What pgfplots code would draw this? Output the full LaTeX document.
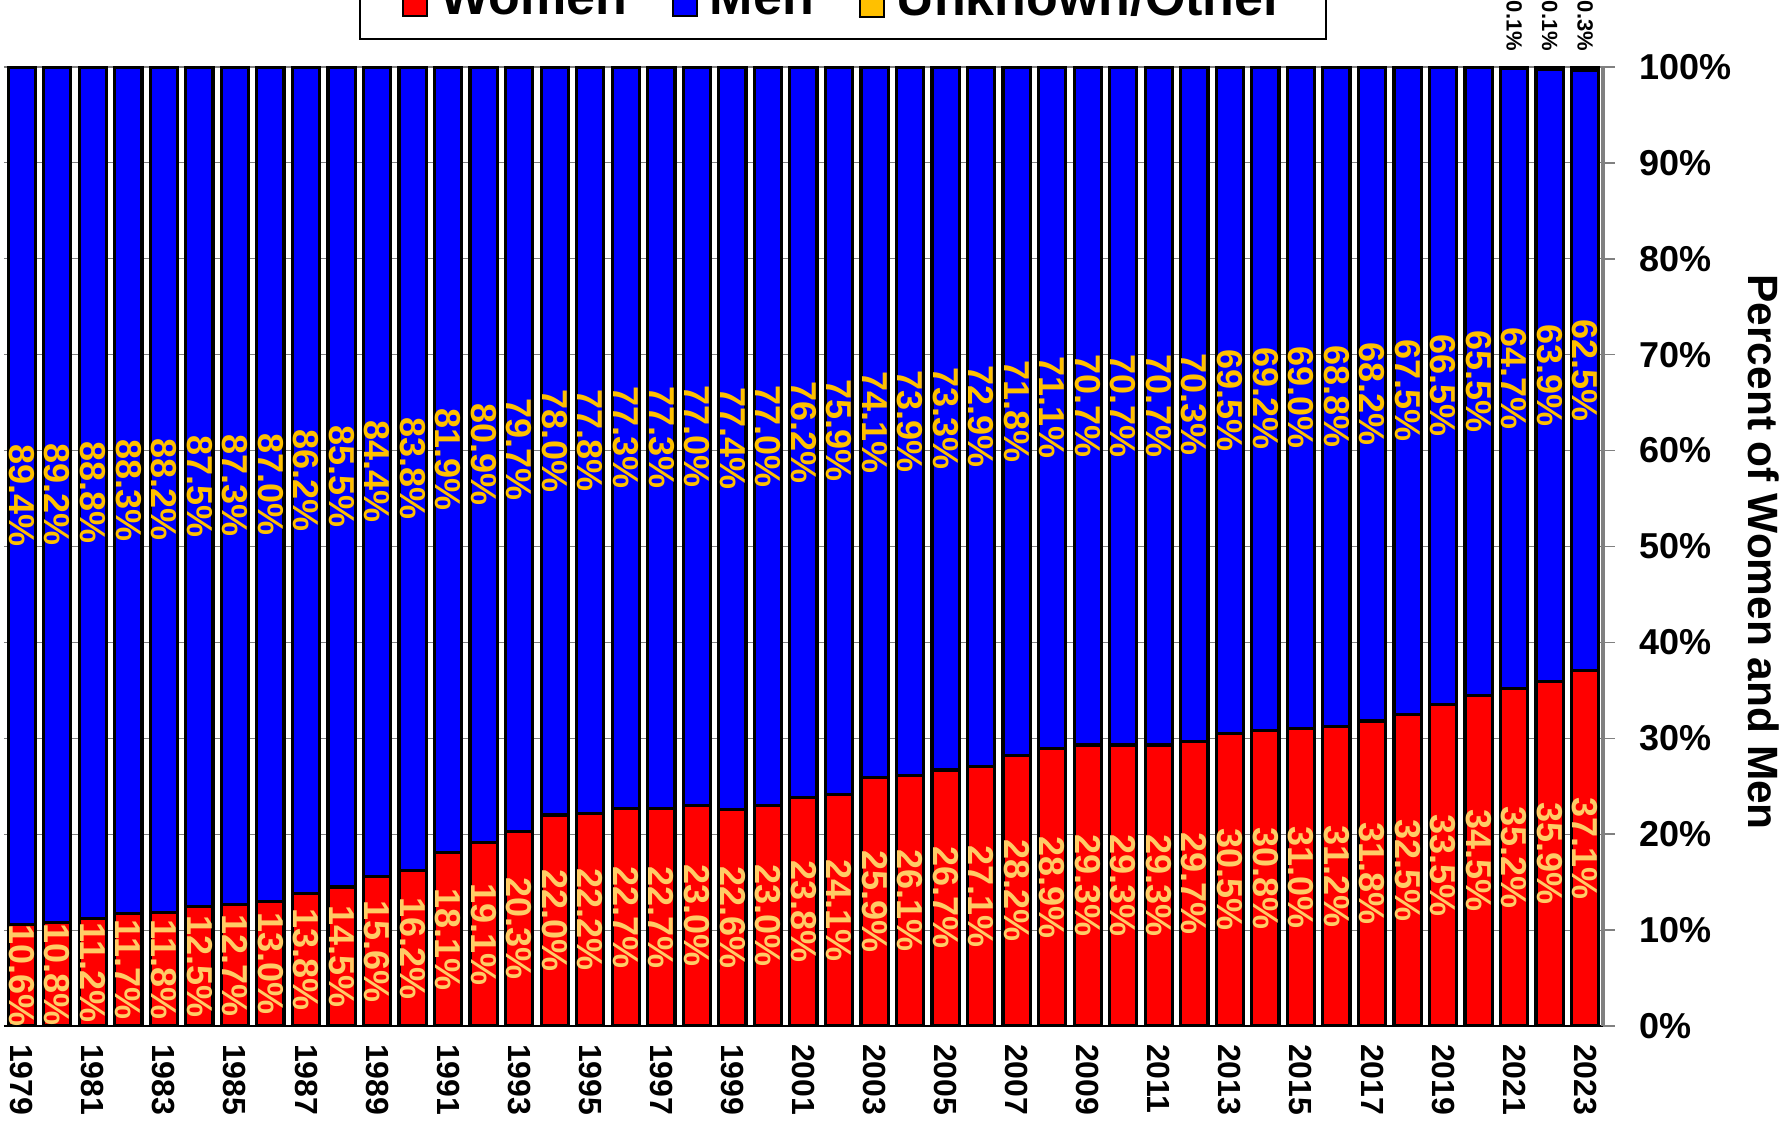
\documentclass[border=0pt]{standalone}
\usepackage{pgfplots}
\pgfplotsset{compat=1.18}
\usepackage{pgfplotstable}
\usepackage{fontspec}
\setmainfont{Liberation Sans}
\definecolor{cwomen}{RGB}{255,0,0}
\definecolor{cmen}{RGB}{0,0,255}
\definecolor{cother}{RGB}{255,192,0}
\definecolor{lwomen}{RGB}{255,204,102}
\definecolor{lmen}{RGB}{255,192,0}

\pgfplotstableread{
year women men other
1979 10.6 89.4 0
1980 10.8 89.2 0
1981 11.2 88.8 0
1982 11.7 88.3 0
1983 11.8 88.2 0
1984 12.5 87.5 0
1985 12.7 87.3 0
1986 13.0 87.0 0
1987 13.8 86.2 0
1988 14.5 85.5 0
1989 15.6 84.4 0
1990 16.2 83.8 0
1991 18.1 81.9 0
1992 19.1 80.9 0
1993 20.3 79.7 0
1994 22.0 78.0 0
1995 22.2 77.8 0
1996 22.7 77.3 0
1997 22.7 77.3 0
1998 23.0 77.0 0
1999 22.6 77.4 0
2000 23.0 77.0 0
2001 23.8 76.2 0
2002 24.1 75.9 0
2003 25.9 74.1 0
2004 26.1 73.9 0
2005 26.7 73.3 0
2006 27.1 72.9 0
2007 28.2 71.8 0
2008 28.9 71.1 0
2009 29.3 70.7 0
2010 29.3 70.7 0
2011 29.3 70.7 0
2012 29.7 70.3 0
2013 30.5 69.5 0
2014 30.8 69.2 0
2015 31.0 69.0 0
2016 31.2 68.8 0
2017 31.8 68.2 0
2018 32.5 67.5 0
2019 33.5 66.5 0
2020 34.5 65.5 0
2021 35.2 64.7 0.1
2022 35.9 63.9 0.1
2023 37.1 62.5 0.3
}\data

\pgfplotstableread{
year other
2021 0.1
2022 0.1
2023 0.3
}\otherdata

\newcommand{\patch}[1]{{\color{black}\fboxsep=0pt\fboxrule=0.5pt\fbox{\textcolor{#1}{\rule{5.5pt}{5.5pt}}}}\hspace{3pt}}

\begin{document}
\begin{tikzpicture}
\begin{axis}[
  at={(0,0)}, anchor=south west,
  scale only axis, width=399.75pt, height=239.75pt,
  ybar stacked, bar width=6.8pt,
  xmin=1978.5, xmax=2023.5, ymin=0, ymax=100,
  xtick={1979,1981,1983,1985,1987,1989,1991,1993,1995,1997,1999,2001,2003,2005,2007,2009,2011,2013,2015,2017,2019,2021,2023},
  xticklabels={1979,1981,1983,1985,1987,1989,1991,1993,1995,1997,1999,2001,2003,2005,2007,2009,2011,2013,2015,2017,2019,2021,2023},
  ytick={0,10,...,100},
  yticklabels={0\%,10\%,20\%,30\%,40\%,50\%,60\%,70\%,80\%,90\%,100\%},
  axis x line*=bottom, axis y line*=right,
  x axis line style={-, black, line width=0.7pt},
  y axis line style={-, gray, line width=0.8pt},
  ymajorgrids, grid style={gray, line width=0.3pt},
  major x tick style={draw=none},
  major y tick style={gray, line width=0.4pt},
  tick align=outside, major tick length=3pt,
  xticklabel style={rotate=-90, anchor=west, font=\bfseries\fontsize{8}{9.5}\selectfont, xshift=-2pt},
  yticklabel style={font=\bfseries\fontsize{9}{11}\selectfont, anchor=west, xshift=2.5pt},
  ylabel={Percent of Women and Men},
  ylabel style={at={(axis description cs:1.1007,0.494)}, rotate=180, anchor=center, font=\bfseries\fontsize{10.6}{12}\selectfont},
  legend columns=3,
  legend style={at={(axis description cs:0.5247,1.0282)}, anchor=south, draw=black, line width=0.4pt,
    font=\bfseries\fontsize{13}{15}\selectfont, inner xsep=6.2pt, inner ysep=2.3pt,
    nodes={inner xsep=4.3pt, inner ysep=2pt},
    /tikz/every even column/.append style={column sep=2.6pt}},
  legend cell align=left,
]
\addplot[fill=cwomen, draw=black, line width=0.8pt, legend image code/.code={}] table[x=year, y=women]{\data};
\addlegendentry{\patch{cwomen}Women}
\addplot[fill=cmen, draw=black, line width=0.8pt, legend image code/.code={}] table[x=year, y=men]{\data};
\addlegendentry{\patch{cmen}Men}
\addplot[fill=cother, draw=black, line width=0.8pt, legend image code/.code={}] table[x=year, y=other]{\data};
\addlegendentry{\patch{cother}Unknown/Other}
\end{axis}
\begin{axis}[
  at={(0,0)}, anchor=south west,
  scale only axis, width=399.75pt, height=239.75pt,
  xmin=1978.5, xmax=2023.5, ymin=0, ymax=100,
  hide axis, clip=false,
]
\addplot[draw=none, mark=none, point meta=explicit symbolic,
  nodes near coords={\pgfplotspointmeta\%},
  nodes near coords style={anchor=center, rotate=-90, text=lwomen, inner sep=0pt, font=\bfseries\fontsize{9}{11}\selectfont}]
  table[x=year, y expr=\thisrow{women}/2, meta=women]{\data};
\addplot[draw=none, mark=none, point meta=explicit symbolic,
  nodes near coords={\pgfplotspointmeta\%},
  nodes near coords style={anchor=center, rotate=-90, text=lmen, inner sep=0pt, font=\bfseries\fontsize{9}{11}\selectfont}]
  table[x=year, y expr=\thisrow{women}+\thisrow{men}/2, meta=men]{\data};
\addplot[draw=none, mark=none, point meta=explicit symbolic,
  nodes near coords={\pgfplotspointmeta\%},
  nodes near coords style={yshift=3.8pt, anchor=east, rotate=-90, text=black, inner sep=0pt, font=\bfseries\fontsize{5.5}{6.5}\selectfont}]
  table[x=year, y expr=100, meta=other]{\otherdata};
\end{axis}
\pgfresetboundingbox
\useasboundingbox (-1pt,-24.5pt) rectangle (445.75pt,256.5pt);
\end{tikzpicture}
\end{document}
